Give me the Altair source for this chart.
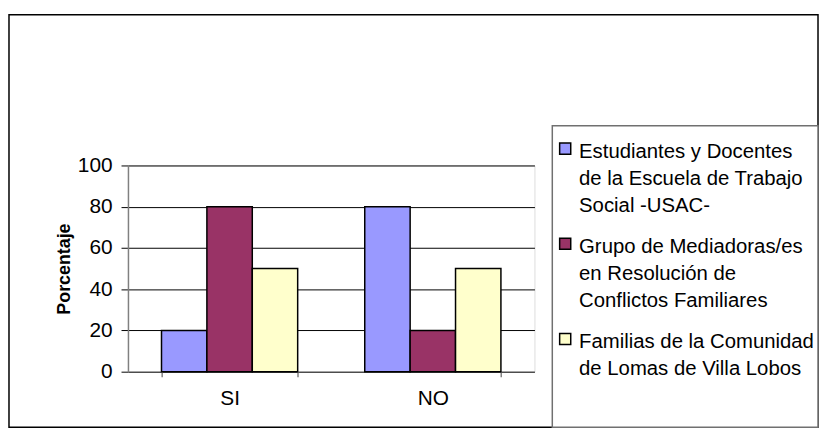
import altair as alt
import pandas as pd

categories = ["SI", "NO"]
series_lines = [
    ["Estudiantes y Docentes", "de la Escuela de Trabajo", "Social -USAC-"],
    ["Grupo de Mediadoras/es", "en Resolución de", "Conflictos Familiares"],
    ["Familias de la Comunidad", "de Lomas de Villa Lobos"],
]
series = ["\n".join(lines) for lines in series_lines]
values_estudiantes = [20, 80]
values_grupo = [80, 20]
values_familias = [50, 50]
colors = ["#9999FF", "#993366", "#FFFFCC"]
y_ticks = [0, 20, 40, 60, 80, 100]

rows = []
for s, vals in zip(series, [values_estudiantes, values_grupo, values_familias]):
    for c, v in zip(categories, vals):
        rows.append({"respuesta": c, "serie": s, "porcentaje": v})
df = pd.DataFrame(rows)
legend_df = pd.DataFrame({"serie": series})

FONT = "Liberation Sans"
FS = 21
LFS = 20.5

color_scale = alt.Scale(domain=series, range=colors)

bars = alt.Chart(df).mark_bar(stroke="black", strokeWidth=1.5).encode(
    x=alt.X("respuesta:N", sort=categories,
            scale=alt.Scale(paddingInner=0.33, paddingOuter=0.165),
            axis=alt.Axis(title=None, domain=False, ticks=True, tickBand="extent",
                          tickSize=5, tickColor="#808080", tickWidth=1.5,
                          labelAngle=0,
                          labelFont=FONT, labelFontSize=FS, labelColor="black",
                          labelPadding=11)),
    xOffset=alt.XOffset("serie:N", sort=series,
                        scale=alt.Scale(paddingInner=0, paddingOuter=0)),
    y=alt.Y("porcentaje:Q", scale=alt.Scale(domain=[0, 100], nice=False),
            axis=alt.Axis(title="Porcentaje", values=y_ticks, grid=True,
                          gridColor="black", gridWidth=1, gridOpacity=1,
                          domainColor="#808080", domainWidth=1.5,
                          tickColor="black", tickSize=7,
                          labelFont=FONT, labelFontSize=FS, labelColor="black",
                          labelPadding=9,
                          titleFont=FONT, titleFontSize=18, titleFontWeight="bold",
                          titleColor="black", titlePadding=4)),
    color=alt.Color("serie:N", sort=series, scale=color_scale, legend=None),
)

# Legend (drawn as marks; entries placed by a point scale)
legend_y = alt.Y("serie:N", sort=series,
                 scale=alt.Scale(type="point", domain=series, range=[-17, 175],
                                 padding=0),
                 axis=None)

legend_box = alt.Chart(pd.DataFrame({"k": [0]})).mark_rect(
    fill="white", stroke="#707070", strokeWidth=1.5, clip=False
).encode(
    x=alt.value(428), x2=alt.value(696),
    y=alt.value(-40), y2=alt.value(264),
)

legend_sym = alt.Chart(legend_df).mark_square(
    size=125, stroke="black", strokeWidth=1.5, opacity=1, clip=False
).encode(
    x=alt.value(441),
    y=legend_y,
    color=alt.Color("serie:N", sort=series, scale=color_scale, legend=None),
)

legend_txt = alt.Chart(legend_df).transform_calculate(
    lineas="split(datum.serie, '\\n')"
).mark_text(
    align="left", baseline="top", dy=-7, font=FONT, fontSize=LFS,
    lineHeight=27.5, color="black", clip=False
).encode(
    x=alt.value(455),
    y=legend_y,
    text="lineas:N",
)

border = alt.Chart(pd.DataFrame({"k": [0]})).mark_rect(
    fill=None, stroke="black", strokeWidth=1.5, clip=False
).encode(
    x=alt.value(-120), x2=alt.value(696),
    y=alt.value(-152), y2=alt.value(264),
)

chart = alt.layer(border, bars, legend_box, legend_sym, legend_txt).resolve_scale(
    y="independent"
).properties(
    width=410, height=208,
    autosize=alt.AutoSizeParams(type="none"),
    padding={"left": 121, "top": 157, "right": 287, "bottom": 59},
).configure_view(
    fill="#C0C0C0", stroke="#808080", strokeWidth=1.5
).configure(background="white")

chart.save("out.html", embed_options={"renderer": "svg", "actions": False})
